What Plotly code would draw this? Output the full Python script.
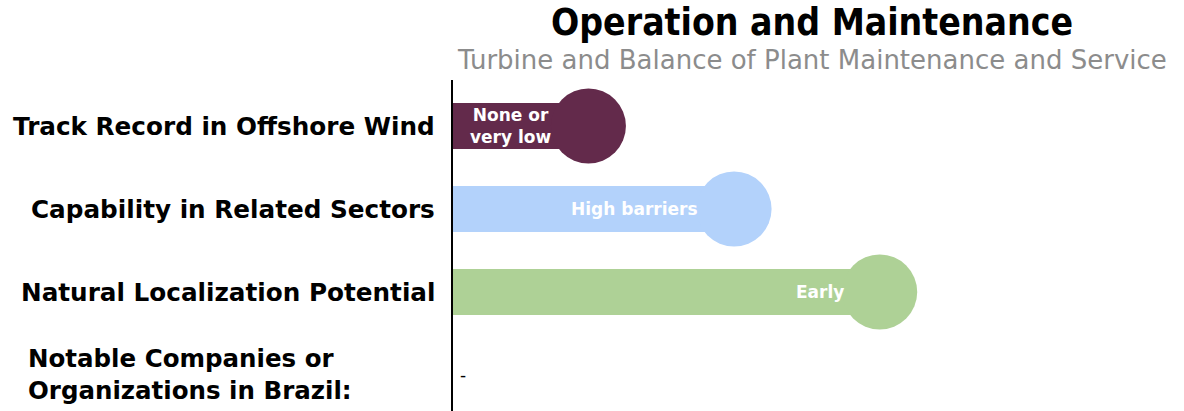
import plotly.graph_objects as go

title = "Operation and Maintenance"
subtitle = "Turbine and Balance of Plant Maintenance and Service"
categories = ["Track Record in Offshore Wind", "Capability in Related Sectors",
              "Natural Localization Potential", "Notable Companies or Organizations in Brazil:"]
bar_categories = categories[:3]
values = [1, 2, 3]
bar_labels = ["None or<br>very low", "High barriers", "Early"]
colors = ["#632a4b", "#b3d2fb", "#aed196"]
notable_label = "Notable Companies or<br>Organizations in Brazil:"
notable_text = "-"

fig = go.Figure()
fig.add_trace(go.Bar(
    y=bar_categories, x=values, orientation="h", width=0.55,
    marker=dict(color=colors, line=dict(width=0)), hoverinfo="skip", showlegend=False,
))
fig.add_trace(go.Scatter(
    y=bar_categories, x=values, mode="markers",
    marker=dict(size=75, color=colors, line=dict(width=0)),
    cliponaxis=False, hoverinfo="skip", showlegend=False,
))

for cat, v, lab in zip(bar_categories, values, bar_labels):
    fig.add_annotation(x=v, y=cat, xref="x", yref="y", text=lab, showarrow=False,
                       xanchor="right", xshift=-34, align="center",
                       font=dict(family="DejaVu Sans", size=17, color="white", weight="bold"))

for cat in bar_categories:
    fig.add_annotation(x=0, y=cat, xref="paper", yref="y", text=cat, showarrow=False,
                       xanchor="right", xshift=-16, yshift=-1,
                       font=dict(family="DejaVu Sans", size=24.7, color="black", weight="bold"))

fig.add_annotation(x=0, y=categories[3], xref="paper", yref="y",
                   text=notable_label, showarrow=False,
                   xanchor="left", xshift=-427, align="left",
                   font=dict(family="DejaVu Sans", size=24.5, color="black", weight="bold"))
fig.add_annotation(x=0, y=categories[3], xref="paper", yref="y", text=notable_text,
                   showarrow=False, xanchor="left", xshift=5,
                   font=dict(family="DejaVu Sans", size=17, color="black"))

fig.add_annotation(x=0.5, y=1, xref="paper", yref="paper", text=title, showarrow=False,
                   xanchor="center", yanchor="middle", yshift=58,
                   font=dict(family="DejaVu Sans Condensed", size=37, color="black", weight="bold"))
fig.add_annotation(x=0.5, y=1, xref="paper", yref="paper", text=subtitle, showarrow=False,
                   xanchor="center", yanchor="middle", yshift=20,
                   font=dict(family="DejaVu Sans", size=26, color="#8c8c8c"))

fig.update_layout(
    width=1184, height=411,
    margin=dict(l=453, r=13, t=80, b=0, pad=0),
    paper_bgcolor="white", plot_bgcolor="white",
    xaxis=dict(range=[0.07, 5.0], visible=False, fixedrange=True),
    yaxis=dict(type="category", categoryorder="array", categoryarray=categories,
               range=[3.434, -0.554], showticklabels=False, ticks="",
               showline=True, linecolor="black", linewidth=2, showgrid=False, zeroline=False),
    bargap=0,
)
fig.write_html("out.html", config={"displayModeBar": False},
               post_script="document.body.style.margin='0';document.body.style.overflow='hidden';")
